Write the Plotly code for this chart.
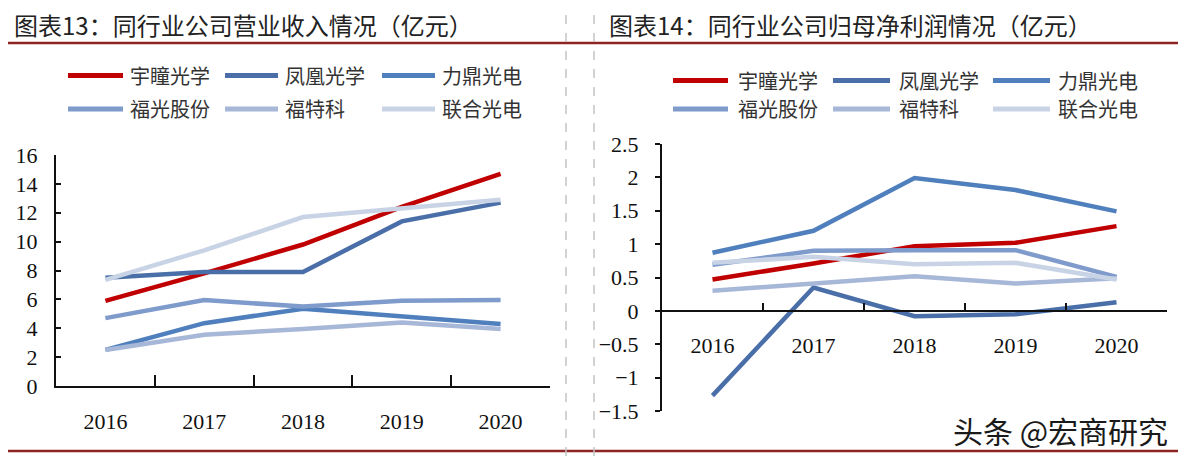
import plotly.graph_objects as go

W, H = 1186, 456
OFF = 8  # page body margin in the viewer

years = ["2016", "2017", "2018", "2019", "2020"]
companies = ["宇瞳光学", "凤凰光学", "力鼎光电", "福光股份", "福特科", "联合光电"]
colors = ["#C00000", "#4A6FA8", "#4F80BD", "#7F9BCB", "#A7B7D8", "#C9D3E6"]

# 营业收入（亿元）
rev_yutong = [5.9, 7.8, 9.8, 12.4, 14.7]
rev_fenghuang = [7.5, 7.9, 7.9, 11.4, 12.7]
rev_liding = [2.5, 4.35, 5.35, 4.8, 4.3]
rev_fuguang = [4.7, 5.95, 5.5, 5.9, 5.95]
rev_futeke = [2.5, 3.55, 3.95, 4.4, 3.95]
rev_lianhe = [7.35, 9.4, 11.7, 12.3, 12.9]

# 归母净利润（亿元）
np_yutong = [0.47, 0.71, 0.97, 1.02, 1.27]
np_fenghuang = [-1.27, 0.35, -0.08, -0.05, 0.13]
np_liding = [0.87, 1.2, 1.99, 1.81, 1.49]
np_fuguang = [0.69, 0.9, 0.91, 0.91, 0.51]
np_futeke = [0.30, 0.41, 0.52, 0.41, 0.49]
np_lianhe = [0.72, 0.81, 0.70, 0.72, 0.47]

title_left = "图表13：同行业公司营业收入情况（亿元）"
title_right = "图表14：同行业公司归母净利润情况（亿元）"
watermark = "头条 @宏商研究"

rev_series = [rev_yutong, rev_fenghuang, rev_liding, rev_fuguang, rev_futeke, rev_lianhe]
np_series = [np_yutong, np_fenghuang, np_liding, np_fuguang, np_futeke, np_lianhe]


def px(x):
    return (x - OFF) / W


def py(y):
    return 1 - (y - OFF) / H


fig = go.Figure()
for name, vals, c in zip(companies, rev_series, colors):
    fig.add_trace(go.Scatter(x=years, y=vals, mode="lines", name=name,
                             line=dict(color=c, width=4.5), showlegend=False,
                             xaxis="x", yaxis="y"))
for name, vals, c in zip(companies, np_series, colors):
    fig.add_trace(go.Scatter(x=years, y=vals, mode="lines", name=name,
                             line=dict(color=c, width=4.5), showlegend=False,
                             xaxis="x2", yaxis="y2"))

tickfont = dict(family="Liberation Serif", size=22, color="#111")

fig.update_layout(
    width=W, height=H,
    margin=dict(l=0, r=0, t=0, b=0, pad=0, autoexpand=False),
    paper_bgcolor="white", plot_bgcolor="white",
    xaxis=dict(domain=[px(56), px(550)], type="category", range=[-0.5, 4.5],
               showline=True, linecolor="#111", linewidth=2,
               ticks="inside", tickson="boundaries", ticklen=11, tickwidth=2,
               tickcolor="#111", showgrid=False, zeroline=False,
               tickfont=tickfont, ticklabelstandoff=15, anchor="y"),
    yaxis=dict(domain=[py(386), py(155)], range=[0, 16], dtick=2,
               showline=True, linecolor="#111", linewidth=2,
               ticks="inside", ticklen=5, tickwidth=2, tickcolor="#111",
               showgrid=False, zeroline=False, tickfont=tickfont,
               ticklabelstandoff=12, anchor="x"),
    xaxis2=dict(domain=[px(662), px(1167)], type="category", range=[-0.5, 4.5],
                showline=True, linecolor="#111", linewidth=2,
                ticks="inside", tickson="boundaries", ticklen=7, tickwidth=2,
                tickcolor="#111", showgrid=False, zeroline=False,
                tickfont=tickfont, ticklabelstandoff=15,
                anchor="free", position=py(311)),
    yaxis2=dict(domain=[py(411), py(144)], range=[-1.5, 2.5], dtick=0.5,
                showline=True, linecolor="#111", linewidth=2,
                ticks="outside", ticklen=5, tickwidth=2, tickcolor="#111",
                showgrid=False, zeroline=False, tickfont=tickfont,
                ticklabelstandoff=12, anchor="x2"),
    showlegend=False,
)

shapes = []
annotations = []

# frame lines
red = "#8E2424"
shapes.append(dict(type="line", xref="paper", yref="paper", x0=px(0), x1=px(1186),
                   y0=py(43), y1=py(43), line=dict(color=red, width=2.5)))
shapes.append(dict(type="line", xref="paper", yref="paper", x0=px(0), x1=px(1186),
                   y0=py(451), y1=py(451), line=dict(color=red, width=2.5)))
for xv in (566, 594, 1184):
    shapes.append(dict(type="line", xref="paper", yref="paper", x0=px(xv), x1=px(xv),
                       y0=py(456), y1=py(0), line=dict(color="#C4C4C4", width=1.5, dash="dash")))

# titles
cjk = "Noto Sans CJK SC"
annotations.append(dict(text=title_left, xref="paper", yref="paper", x=px(12), y=py(24),
                        xanchor="left", yanchor="middle", showarrow=False,
                        font=dict(family=cjk, size=24, color="#222")))
annotations.append(dict(text=title_right, xref="paper", yref="paper", x=px(607), y=py(24),
                        xanchor="left", yanchor="middle", showarrow=False,
                        font=dict(family=cjk, size=24, color="#222")))

# legends (custom, to match long line samples)
left_leg = dict(rows=[75.5, 109], cols=[(68, 123, 128), (225, 278, 283), (382, 435, 440)])
right_leg = dict(rows=[80.5, 109], cols=[(673, 728, 736), (833, 890, 897), (993, 1050, 1056)])
for leg in (left_leg, right_leg):
    for i, (name, c) in enumerate(zip(companies, colors)):
        r, k = divmod(i, 3)
        x0, x1, xt = leg["cols"][k]
        y = leg["rows"][r]
        shapes.append(dict(type="line", xref="paper", yref="paper", x0=px(x0), x1=px(x1),
                           y0=py(y), y1=py(y), line=dict(color=c, width=5)))
        annotations.append(dict(text=name, xref="paper", yref="paper", x=px(xt), y=py(y),
                                xanchor="left", yanchor="middle", showarrow=False,
                                font=dict(family=cjk, size=20, color="#333")))

annotations.append(dict(text=watermark, xref="paper", yref="paper", x=px(1170), y=py(430),
                        xanchor="right", yanchor="middle", showarrow=False,
                        font=dict(family=cjk, size=30, color="#1a1a1a")))

fig.update_layout(shapes=shapes, annotations=annotations)
fig.write_html("out.html")
